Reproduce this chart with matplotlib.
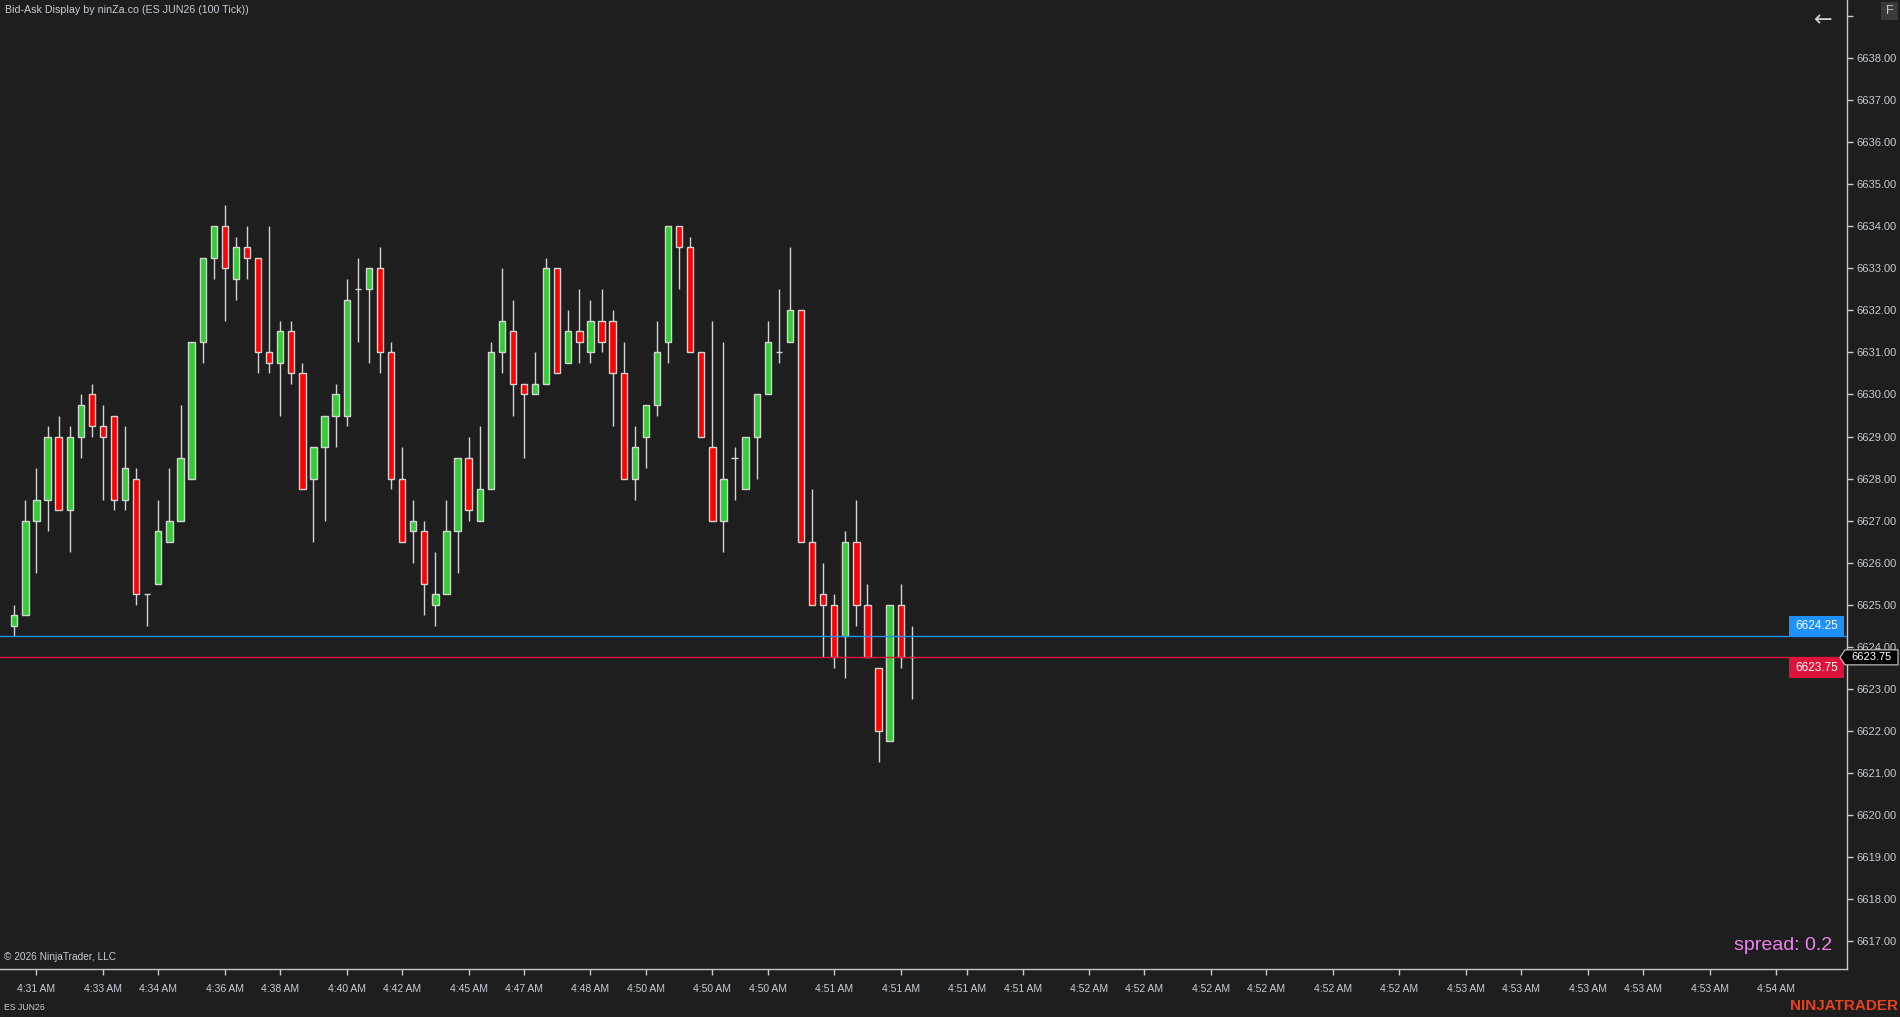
import matplotlib
matplotlib.use('Agg')
import matplotlib.pyplot as plt
from matplotlib.patches import Rectangle, Polygon

plt.rcParams['font.family'] = ['Liberation Sans', 'DejaVu Sans']

# ---------------- data ----------------
opens = [6624.5, 6624.75, 6627.0, 6627.5, 6629.0, 6627.25, 6629.0, 6630.0, 6629.25, 6629.5,
         6627.5, 6628.0, 6625.25, 6625.5, 6626.5, 6627.0, 6628.0, 6631.25, 6633.25, 6634.0,
         6632.75, 6633.5, 6633.25, 6631.0, 6630.75, 6631.5, 6630.5, 6628.0, 6628.75, 6629.5,
         6629.5, 6632.5, 6632.5, 6633.0, 6631.0, 6628.0, 6626.75, 6626.75, 6625.0, 6625.25,
         6626.75, 6628.5, 6627.0, 6627.75, 6631.0, 6631.5, 6630.25, 6630.0, 6630.25, 6633.0,
         6630.75, 6631.5, 6631.0, 6631.75, 6631.75, 6630.5, 6628.0, 6629.0, 6629.75, 6631.25,
         6634.0, 6633.5, 6631.0, 6628.75, 6627.0, 6628.5, 6627.75, 6629.0, 6630.0, 6631.0,
         6631.25, 6632.0, 6626.5, 6625.25, 6625.0, 6624.25, 6626.5, 6625.0, 6623.5, 6621.75,
         6625.0, 6623.75]
highs = [6625.0, 6627.5, 6628.25, 6629.25, 6629.5, 6629.25, 6630.0, 6630.25, 6629.75, 6629.5,
         6629.25, 6628.25, 6625.25, 6627.5, 6628.25, 6629.75, 6631.25, 6633.25, 6634.0, 6634.5,
         6633.75, 6634.0, 6633.25, 6634.0, 6631.75, 6631.75, 6630.75, 6628.75, 6629.5, 6630.25,
         6632.75, 6633.25, 6633.0, 6633.5, 6631.25, 6628.75, 6627.5, 6627.0, 6626.25, 6627.5,
         6628.5, 6629.0, 6629.25, 6631.25, 6633.0, 6632.25, 6630.25, 6631.0, 6633.25, 6633.0,
         6632.0, 6632.5, 6632.25, 6632.5, 6632.0, 6631.25, 6629.25, 6629.75, 6631.75, 6634.0,
         6634.0, 6633.75, 6631.0, 6631.75, 6631.25, 6628.75, 6629.0, 6630.0, 6631.75, 6632.5,
         6633.5, 6632.0, 6627.75, 6626.0, 6625.25, 6626.75, 6627.5, 6625.5, 6623.5, 6625.0,
         6625.5, 6624.5]
lows = [6624.25, 6624.75, 6625.75, 6626.75, 6627.25, 6626.25, 6628.5, 6629.0, 6627.5, 6627.25,
        6627.25, 6625.0, 6624.5, 6625.5, 6626.5, 6627.0, 6628.0, 6630.75, 6632.75, 6631.75,
        6632.25, 6632.75, 6630.5, 6630.5, 6629.5, 6630.25, 6627.75, 6626.5, 6627.0, 6628.75,
        6629.25, 6631.25, 6630.75, 6630.5, 6627.75, 6626.5, 6626.0, 6624.75, 6624.5, 6625.25,
        6625.75, 6627.0, 6627.0, 6627.75, 6630.5, 6629.5, 6628.5, 6630.0, 6630.25, 6630.5,
        6630.75, 6630.75, 6630.75, 6631.0, 6629.25, 6628.0, 6627.5, 6628.25, 6629.5, 6630.75,
        6632.5, 6631.0, 6629.0, 6627.0, 6626.25, 6627.5, 6627.75, 6628.0, 6630.0, 6630.75,
        6631.25, 6626.5, 6625.0, 6623.75, 6623.5, 6623.25, 6624.5, 6623.75, 6621.25, 6621.75,
        6623.5, 6622.75]
closes = [6624.75, 6627.0, 6627.5, 6629.0, 6627.25, 6629.0, 6629.75, 6629.25, 6629.0, 6627.5,
          6628.25, 6625.25, 6625.25, 6626.75, 6627.0, 6628.5, 6631.25, 6633.25, 6634.0, 6633.0,
          6633.5, 6633.25, 6631.0, 6630.75, 6631.5, 6630.5, 6627.75, 6628.75, 6629.5, 6630.0,
          6632.25, 6632.5, 6633.0, 6631.0, 6628.0, 6626.5, 6627.0, 6625.5, 6625.25, 6626.75,
          6628.5, 6627.25, 6627.75, 6631.0, 6631.75, 6630.25, 6630.0, 6630.25, 6633.0, 6630.5,
          6631.5, 6631.25, 6631.75, 6631.25, 6630.5, 6628.0, 6628.75, 6629.75, 6631.0, 6634.0,
          6633.5, 6631.0, 6629.0, 6627.0, 6628.0, 6628.5, 6629.0, 6630.0, 6631.25, 6631.0,
          6632.0, 6626.5, 6625.0, 6625.0, 6623.75, 6626.5, 6625.0, 6623.75, 6622.0, 6625.0,
          6623.75, 6623.75]

tick_bars = [2, 8, 13, 19, 24, 30, 35, 41, 46, 52, 57, 63, 68, 74, 80, 86, 91, 97, 102, 108,
             113, 119, 125, 131, 136, 142, 147, 153, 159]
tick_labels = ["4:31 AM", "4:33 AM", "4:34 AM", "4:36 AM", "4:38 AM", "4:40 AM", "4:42 AM",
               "4:45 AM", "4:47 AM", "4:48 AM", "4:50 AM", "4:50 AM", "4:50 AM", "4:51 AM",
               "4:51 AM", "4:51 AM", "4:51 AM", "4:52 AM", "4:52 AM", "4:52 AM", "4:52 AM",
               "4:52 AM", "4:52 AM", "4:53 AM", "4:53 AM", "4:53 AM", "4:53 AM", "4:53 AM",
               "4:54 AM"]
price_ticks = list(range(6617, 6640))
ask_price = 6624.25
bid_price = 6623.75
last_price = 6623.75
spread_value = 0.2
title_text = "Bid-Ask Display by ninZa.co (ES JUN26 (100 Tick))"
instrument = "ES JUN26"
copyright_text = "\u00a9 2026 NinjaTrader, LLC"

# ---------------- style ----------------
BG = '#1e1e1e'
UP = '#32cd32'
DN = '#ff0000'
OUTLINE = '#d3d3d3'
AXIS = '#c8c8c8'
TXT = '#c4ccd4'
W, H = 1900, 1017

fig = plt.figure(figsize=(W / 100, H / 100), dpi=100, facecolor=BG)
ax_l, ax_r, ax_t, ax_b = 0, 1847, 0, 969
ax = fig.add_axes([ax_l / W, 1 - ax_b / H, (ax_r - ax_l) / W, (ax_b - ax_t) / H])
ax.set_facecolor(BG)

ax.set_xlim(-1.29, 165.4)
ax.set_ylim(6616.34, 6639.38)

n = len(opens)
xs = list(range(n))
ax.vlines(xs, lows, highs, color=OUTLINE, lw=1.0, zorder=2)
bw = 0.57
for i in xs:
    o, c = opens[i], closes[i]
    if c > o:
        ax.bar(i, c - o, bottom=o, width=bw, color=UP, edgecolor=OUTLINE, lw=1.0, zorder=3)
    elif c < o:
        ax.bar(i, o - c, bottom=c, width=bw, color=DN, edgecolor=OUTLINE, lw=1.0, zorder=3)
    else:
        ax.hlines(o, i - bw / 2, i + bw / 2, color=OUTLINE, lw=1.0, zorder=3)

ax.axhline(ask_price, color='#1e90ff', lw=1.0, zorder=4)
ax.axhline(bid_price, color='#dc143c', lw=1.0, zorder=4)

for s in ['left', 'top']:
    ax.spines[s].set_visible(False)
for s in ['right', 'bottom']:
    ax.spines[s].set_color(AXIS)
    ax.spines[s].set_linewidth(1.0)

ax.yaxis.tick_right()
ax.set_yticks(price_ticks)
ax.set_yticklabels([f"{p:.2f}" if p < 6639 else "" for p in price_ticks])
ax.tick_params(axis='y', colors=AXIS, labelcolor=TXT, length=4, width=1, pad=2.5, labelsize=8)
ax.set_xticks(tick_bars)
ax.set_xticklabels(tick_labels)
ax.tick_params(axis='x', colors=AXIS, labelcolor=TXT, length=4, width=1, pad=6.5, labelsize=7.5)
ax.grid(False)


def fx(px):
    return px / W


def fy(py):
    return 1 - py / H


def ypix(price):
    return H - ax.transData.transform((0, price))[1]


# bid / ask boxes
ya = ypix(ask_price)
fig.add_artist(Rectangle((fx(1789), fy(ya)), fx(1844) - fx(1789), (20.5) / H,
                         transform=fig.transFigure, facecolor='#1e90ff', edgecolor='none', zorder=5))
fig.text(fx(1816.5), fy(ya - 10), f"{ask_price:.2f}", color='white', fontsize=8.5,
         ha='center', va='center', zorder=6)
yb = ypix(bid_price)
fig.add_artist(Rectangle((fx(1789), fy(yb + 20.5)), fx(1844) - fx(1789), 20.5 / H,
                         transform=fig.transFigure, facecolor='#dc143c', edgecolor='none', zorder=5))
fig.text(fx(1816.5), fy(yb + 10.5), f"{bid_price:.2f}", color='white', fontsize=8.5,
         ha='center', va='center', zorder=6)

# last price marker on axis
yl = ypix(last_price)
pts = [(fx(1840), fy(yl)), (fx(1845), fy(yl - 7.5)), (fx(1898), fy(yl - 7.5)),
       (fx(1898), fy(yl + 7.5)), (fx(1845), fy(yl + 7.5))]
fig.add_artist(Polygon(pts, closed=True, transform=fig.transFigure, facecolor='black',
                       edgecolor='#d0d0d0', lw=0.8, zorder=7))
fig.text(fx(1871), fy(yl), f"{last_price:.2f}", color='white', fontsize=8,
         ha='center', va='center', zorder=8)

# texts
fig.text(fx(5), fy(10), title_text, color=TXT, fontsize=7.7, ha='left', va='center')
fig.text(fx(4), fy(957), copyright_text, color=TXT, fontsize=7.3, ha='left', va='center')
fig.text(fx(4), fy(1007), instrument, color=TXT, fontsize=6.3, ha='left', va='center')
fig.text(fx(1832), fy(946), f"spread: {spread_value}", color='#ee82ee', fontsize=14,
         ha='right', va='center')
fig.text(fx(1898), fy(1006), "NINJATRADER", color='#e8401c', fontsize=11, fontweight='bold',
         ha='right', va='center')

# top-right controls
fig.text(fx(1823), fy(20), "\u2190", color='#d0d0d0', fontsize=16, ha='center', va='center',
         family=['DejaVu Sans'])
fig.add_artist(Rectangle((fx(1881), fy(20)), fx(1898) - fx(1881), 18 / H,
                         transform=fig.transFigure, facecolor='#3a3a3a', edgecolor='none', zorder=5))
fig.text(fx(1889.5), fy(11), "F", color='#c8c8c8', fontsize=9, ha='center', va='center', zorder=6)

fig.savefig('out.png', dpi=100, facecolor=BG)
